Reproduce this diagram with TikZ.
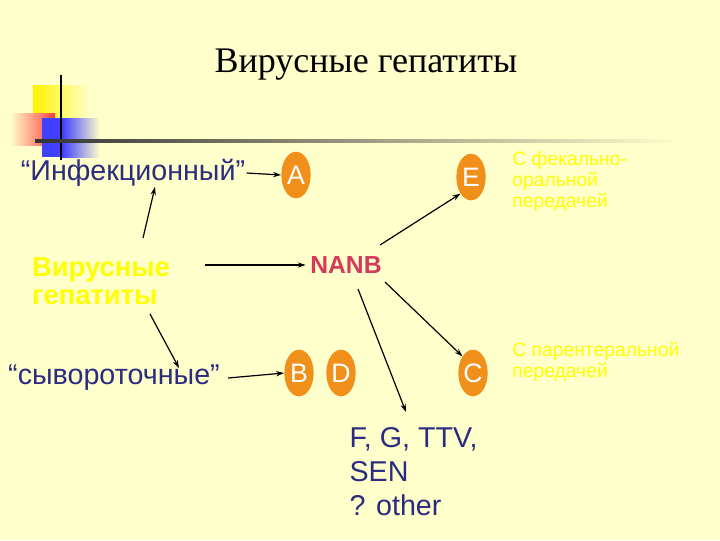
\documentclass[tikz,border=0pt]{standalone}
\usepackage{fontspec}
\setmainfont{Liberation Sans}
\newfontfamily\titlefont{Liberation Serif}
\usetikzlibrary{arrows.meta,shapes.geometric}
\definecolor{bg}{HTML}{FFFFCC}
\definecolor{navy}{HTML}{2B2B80}
\definecolor{org}{HTML}{F0901A}
\definecolor{nanb}{HTML}{D63A5A}
\definecolor{yel}{HTML}{FFFF00}
\begin{document}
\begin{tikzpicture}[x=0.75pt,y=-0.75pt,
  arr/.style={-{Stealth[length=6pt,width=4pt]},line width=0.9pt},
  oval/.style={ellipse,fill=org,minimum width=22pt,minimum height=35pt,inner sep=0pt,text=white,font=\fontsize{20}{20}\selectfont},
  navytxt/.style={text=navy,font=\fontsize{21.5}{21.5}\selectfont,inner sep=1pt},
  yeltxt/.style={text=yel,font=\fontsize{20.5}{24}\selectfont\bfseries,align=left,inner sep=0pt},
  smallyel/.style={text=yel,font=\fontsize{14.5}{16}\selectfont,align=left,inner sep=0pt,anchor=north west}]
\fill[bg] (0,0) rectangle (720,540);
\useasboundingbox (0,0) rectangle (720,540);
% decoration
\shade[left color=yellow!90!orange,right color=bg] (33,85) rectangle (90,130);
\shade[left color=bg,right color=red!75] (10,113) rectangle (55,145);
\fill[blue!75] (42,118) rectangle (62,157);
\shade[left color=blue!75,right color=bg] (62,118) rectangle (100,157);
\draw[line width=1.3pt] (61,75) -- (61,160);
\shade[left color=black!80,right color=bg] (35,139.5) rectangle (680,142.5);
\node[font=\titlefont\fontsize{27}{27}\selectfont] (title) at (366,65) {Вирусные гепатиты};
\node[navytxt] (inf) at (133,173) {“Инфекционный”};
\node[navytxt] (syv) at (114,378) {“сывороточные”};
\node[yeltxt] (vg) at (101,281) {\shortstack[l]{Вирусные\\[3pt]гепатиты}};
\node[oval] (A) at (296,175) {A};
\node[oval] (E) at (471,177) {E};
\node[oval] (B) at (299,373) {B};
\node[oval] (D) at (341,373) {D};
\node[oval] (C) at (473,373) {C};
\node[text=nanb,font=\fontsize{18.5}{18.5}\selectfont\bfseries] (nanb) at (346,265) {NANB};
\node[navytxt,align=left,anchor=north west,font=\fontsize{21.5}{25.5}\selectfont] (fg) at (348,426) {F, G, TTV,\\SEN\\? other};
\node[smallyel] (fek) at (512,151) {С фекально-\\оральной\\передачей};
\node[smallyel] (par) at (512,342) {С парентеральной\\передачей};
\draw[arr] (inf.east) -- (A.west);
\coordinate (v1) at (143,238); \coordinate (v2) at (155,187);
\draw[arr] (v1) -- (v2);
\coordinate (v3) at (150,314); \coordinate (v4) at (179,368);
\draw[arr] (v3) -- (v4);
\coordinate (s1) at (228,378);
\draw[arr] (s1) -- (B.west);
\coordinate (g1) at (205,265);
\draw[arr] (g1) -- (nanb.west);
\coordinate (n1) at (380,245); \coordinate (n2) at (385,282); \coordinate (n3) at (358,289);
\draw[arr] (n1) -- (E.south west);
\draw[arr] (n2) -- (C.north west);
\coordinate (f1) at (406,412);
\draw[arr] (n3) -- (f1);
\end{tikzpicture}
\end{document}
